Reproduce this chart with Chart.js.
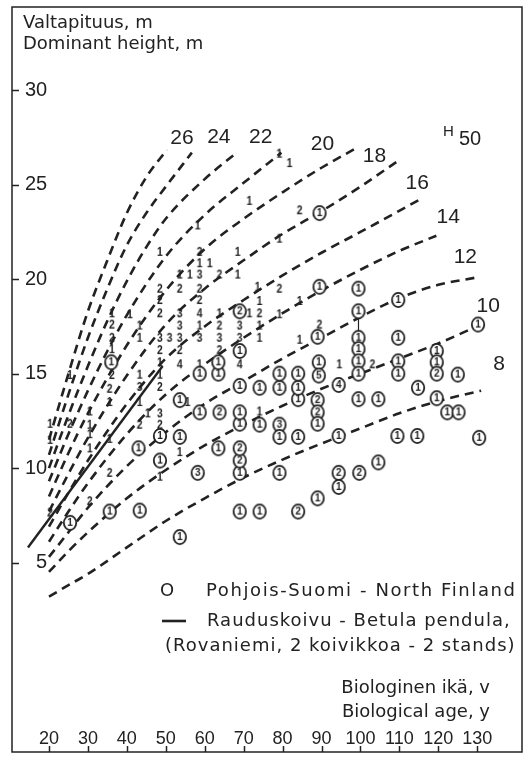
<!DOCTYPE html>
<html>
<head>
<meta charset="utf-8">
<script src="https://cdn.jsdelivr.net/npm/chart.js@4.4.1/dist/chart.umd.min.js"></script>
<style>
  html, body { margin: 0; padding: 0; background: #fff; }
  #wrap { width: 529px; height: 759px; }
</style>
</head>
<body>
<div id="wrap"><canvas id="chart" width="529" height="759"></canvas></div>
<script>
// Valtapituus - Dominant height over biological age, H50 site index curves

const ageTicks = [20, 30, 40, 50, 60, 70, 80, 90, 100, 110, 120, 130];
const heightTicks = [5, 10, 15, 20, 25, 30];
const ageRange = [10.5, 141.5];
const heightRange = [-5.03, 34.41];

// H50 guide curves, [age, height]
const h50_26 = [[20, 11.5], [25, 15.0], [30, 18.3], [35, 21.0], [40, 23.5], [45, 25.4], [50.3, 26.85]];
const h50_24 = [[20, 10.7], [25, 13.9], [30, 16.9], [35, 19.5], [40, 21.8], [45, 23.5], [50, 24.9], [56.7, 26.7]];
const h50_22 = [[20, 10.0], [25, 12.8], [30, 15.4], [35, 17.8], [40, 19.9], [45, 21.7], [50, 23.2], [60, 25.3], [68.2, 26.7]];
const h50_20 = [[20, 9.3], [25, 11.8], [30, 14.1], [35, 16.2], [40, 18.1], [50, 21.2], [60, 23.4], [70, 25.1], [79.7, 26.7]];
const h50_18 = [[20, 8.5], [25, 10.8], [30, 12.9], [40, 16.5], [50, 19.4], [60, 21.6], [70, 23.2], [80, 24.6], [90, 25.9], [99, 26.95]];
const h50_16 = [[20, 7.7], [25, 9.7], [30, 11.6], [40, 14.9], [50, 17.6], [60, 19.5], [70, 21.0], [80, 22.4], [90, 23.6], [100, 24.9], [109.2, 26.2]];
const h50_14 = [[20, 6.9], [25, 8.7], [30, 10.4], [40, 13.4], [50, 15.8], [60, 17.5], [70, 18.9], [80, 20.2], [90, 21.4], [100, 22.5], [115.1, 24.2]];
const h50_12 = [[20, 6.1], [25, 7.7], [30, 9.2], [40, 11.8], [50, 13.9], [60, 15.5], [70, 16.9], [80, 18.2], [90, 19.4], [100, 20.5], [110, 21.5], [119.5, 22.3]];
const h50_10 = [[20, 5.3], [25, 6.6], [30, 7.9], [40, 10.1], [50, 11.9], [60, 13.4], [70, 14.6], [80, 15.8], [90, 16.9], [100, 18.0], [110, 19.0], [120, 19.7], [130, 20.1]];
const h50_8 = [[20, 4.5], [25, 5.6], [30, 6.6], [40, 8.4], [50, 9.9], [60, 11.2], [70, 12.3], [80, 13.3], [90, 14.2], [100, 15.0], [110, 15.8], [120, 16.6], [131, 17.6]];
const h50_low = [[20, 3.2], [25, 3.8], [30, 4.4], [40, 5.8], [50, 7.2], [60, 8.4], [70, 9.5], [80, 10.45], [90, 11.3], [100, 12.1], [110, 12.9], [120, 13.55], [131, 14.1]];

const h50Curves = [h50_26, h50_24, h50_22, h50_20, h50_18, h50_16, h50_14, h50_12, h50_10, h50_8, h50_low];
const siteIndexLabels = ['26', '24', '22', '20', '18', '16', '14', '12', '10', '8', ''];

// Rauduskoivu - Betula pendula, Rovaniemi
const betulaLine = [[14.6, 5.8], [49.2, 15.4]];
// remeasured stand (vertical connector)
const standTrack = [[99.5, 18.3], [99.5, 15.0]];

// Pohjois-Suomi plots, circled number: [age, height, count]
const northPlots = [
  [89.5, 23.5, 1], [89.5, 19.6, 1], [99.5, 19.5, 1], [109.7, 18.9, 1], [130.2, 17.6, 1],
  [89.0, 16.95, 1], [99.5, 18.3, 1], [99.5, 16.9, 1], [99.5, 16.3, 1], [99.5, 15.65, 1], [99.5, 15.0, 1],
  [109.7, 16.9, 1], [109.7, 15.65, 1], [109.7, 15.0, 1],
  [119.6, 16.2, 1], [119.6, 15.6, 1], [119.6, 15.0, 2], [125.0, 14.95, 1], [114.8, 14.25, 1],
  [99.5, 13.65, 1], [104.6, 13.65, 1], [119.6, 13.7, 1], [122.3, 12.95, 1], [125.2, 12.95, 1],
  [109.5, 11.7, 1], [114.6, 11.7, 1], [130.5, 11.6, 1], [104.6, 10.3, 1], [94.4, 11.7, 1],
  [89.3, 15.6, 1], [89.3, 14.9, 5], [94.4, 14.4, 4], [89.0, 13.6, 2], [89.0, 12.95, 2], [89.0, 12.35, 1],
  [84.0, 13.65, 1], [74.1, 14.25, 1], [79.2, 14.25, 1], [84.0, 14.25, 1], [79.2, 15.0, 1], [84.0, 15.0, 1],
  [74.1, 12.3, 1], [79.2, 12.3, 3], [79.2, 11.65, 1], [84.0, 11.65, 1],
  [79.2, 9.75, 1], [94.4, 9.75, 2], [94.4, 9.0, 1], [99.7, 9.75, 2], [89.0, 8.4, 1], [84.0, 7.7, 2],
  [69.0, 7.7, 1], [74.1, 7.7, 1], [69.0, 9.75, 1], [69.0, 10.4, 2], [69.0, 11.05, 2], [63.5, 11.05, 1],
  [69.0, 12.35, 1], [69.0, 12.95, 1], [63.8, 12.95, 2], [58.7, 12.95, 1], [53.6, 13.6, 1], [69.0, 14.35, 1],
  [58.7, 15.0, 1], [63.5, 15.0, 1], [63.5, 15.6, 1], [69.0, 16.2, 1], [69.0, 18.3, 2],
  [36.0, 15.6, 1], [48.5, 11.7, 1], [53.6, 11.65, 1], [43.0, 11.05, 1], [48.5, 10.4, 1], [58.2, 9.75, 3],
  [53.6, 6.35, 1], [25.4, 7.1, 1], [35.6, 7.7, 1], [43.3, 7.75, 1]
];

// other plots, plain number: [age, height, count]
const otherPlots = [
  [79.2, 26.7, 1], [81.8, 26.2, 1], [71.5, 24.2, 1], [58.2, 22.9, 1], [84.4, 23.7, 2], [79.2, 22.2, 1],
  [48.5, 21.5, 1], [58.7, 21.5, 2], [68.5, 21.5, 1], [58.7, 20.9, 1], [61.3, 20.9, 1],
  [53.6, 20.3, 1], [56.2, 20.3, 1], [58.7, 20.3, 3], [63.8, 20.3, 2], [68.5, 20.3, 1],
  [48.5, 19.55, 2], [53.6, 19.55, 2], [58.7, 19.55, 2], [48.5, 18.95, 2], [58.7, 18.95, 2],
  [73.6, 19.65, 1], [79.2, 19.55, 2], [74.1, 18.9, 1], [84.4, 18.9, 1],
  [36.2, 18.25, 1], [40.8, 18.2, 1], [48.5, 18.25, 2], [53.6, 18.25, 3], [58.7, 18.25, 4], [63.8, 18.25, 1],
  [71.5, 18.25, 1], [74.1, 18.25, 2], [79.2, 18.2, 1],
  [36.2, 17.65, 2], [43.3, 17.6, 1], [53.6, 17.6, 3], [58.7, 17.6, 1], [63.8, 17.6, 2], [69.0, 17.6, 3],
  [74.1, 17.6, 1], [89.5, 17.65, 2],
  [36.2, 16.95, 2], [43.3, 16.95, 1], [48.5, 16.95, 3], [51.0, 16.95, 3], [53.6, 16.95, 3], [58.7, 16.95, 3],
  [63.8, 16.95, 3], [69.0, 16.95, 3], [74.1, 16.95, 1], [84.4, 16.85, 1],
  [36.2, 16.35, 1], [48.5, 16.3, 2], [53.6, 16.3, 2], [63.8, 16.3, 2],
  [48.5, 15.65, 1], [53.6, 15.55, 4], [58.7, 15.55, 1], [69.0, 15.55, 4], [94.6, 15.55, 1], [103.1, 15.55, 2],
  [25.4, 14.98, 1], [36.2, 14.98, 2], [43.3, 15.0, 1], [48.5, 15.0, 1],
  [35.6, 14.25, 2], [43.3, 14.35, 3], [48.5, 14.35, 2], [35.6, 13.55, 1], [43.3, 13.55, 1], [55.6, 13.55, 1],
  [20.3, 12.4, 1], [25.4, 12.4, 2], [30.5, 13.05, 1], [30.5, 12.35, 1], [30.5, 11.85, 1], [20.3, 11.55, 1],
  [45.4, 12.95, 1], [48.5, 12.95, 3], [48.5, 12.35, 2], [43.3, 12.35, 2], [35.6, 11.6, 1], [30.5, 11.1, 1],
  [53.6, 10.9, 1], [48.5, 9.6, 1], [35.6, 9.8, 2], [30.5, 8.3, 2], [20.3, 7.7, 2], [74.1, 13.05, 1]
];

const ink = '#222222';
const sans = '"DejaVu Sans", "Liberation Sans", sans-serif';
const arial = '"Liberation Sans", Arial, sans-serif';

// point glyphs
function circledMark(n) {
  const c = document.createElement('canvas');
  c.width = 16; c.height = 18;
  const g = c.getContext('2d');
  g.fillStyle = '#fff';
  g.strokeStyle = ink;
  g.lineWidth = 1.8;
  g.beginPath();
  g.ellipse(8, 9, 6.2, 7.1, 0, 0, Math.PI * 2);
  g.fill();
  g.stroke();
  g.fillStyle = ink;
  g.font = 'bold 10px ' + arial;
  g.textAlign = 'center';
  g.textBaseline = 'middle';
  g.fillText(String(n), 8, 9.5);
  return c;
}

function plainMark(n) {
  const c = document.createElement('canvas');
  c.width = 10; c.height = 14;
  const g = c.getContext('2d');
  g.fillStyle = ink;
  g.font = 'bold 13px ' + arial;
  g.textAlign = 'center';
  g.textBaseline = 'middle';
  g.translate(5, 7);
  g.scale(0.8, 1);
  g.fillText(String(n), 0, 1);
  return c;
}

const circledStyles = {};
const plainStyles = {};
[1, 2, 3, 4, 5].forEach(n => { circledStyles[n] = circledMark(n); plainStyles[n] = plainMark(n); });

const curveLabelOffsets = [[15, -12], [27, -15], [24, -15], [41, -8], [18, 8], [21, 21], [29, 17], [29, 21], [11, 29], [18, 40], [0, 0]];

// curves come first so dataset index i == curve i
const curveDatasets = h50Curves.map((pts, i) => ({
  label: 'H50 ' + siteIndexLabels[i],
  data: pts.map(([x, y]) => ({ x, y })),
  borderColor: ink,
  borderWidth: 2.6,
  borderDash: [9, 6],
  pointRadius: 0,
  cubicInterpolationMode: 'monotone',
  fill: false,
  order: 3
}));

const paperPlugin = {
  id: 'paper',
  beforeDraw(chart) {
    const ctx = chart.ctx;
    ctx.save();
    ctx.fillStyle = '#fff';
    ctx.fillRect(0, 0, chart.width, chart.height);
    ctx.restore();
  },
  afterDraw(chart) {
    const { ctx, chartArea: a, scales: { x, y } } = chart;
    ctx.save();
    ctx.strokeStyle = ink;
    ctx.lineWidth = 1.5;
    ctx.strokeRect(a.left, a.top, a.right - a.left, a.bottom - a.top);

    // tick marks inside the frame
    ctx.beginPath();
    y.ticks.forEach(t => {
      const py = Math.round(y.getPixelForValue(t.value)) + 0.5;
      ctx.moveTo(a.left, py);
      ctx.lineTo(a.left + 7, py);
    });
    x.ticks.forEach(t => {
      const px = Math.round(x.getPixelForValue(t.value)) + 0.5;
      ctx.moveTo(px, a.bottom);
      ctx.lineTo(px, a.bottom - 6);
    });
    ctx.stroke();

    ctx.fillStyle = ink;
    ctx.textBaseline = 'alphabetic';
    ctx.textAlign = 'left';
    ctx.font = '18px ' + sans;
    ctx.fillText('Valtapituus, m', 23, 28);
    ctx.fillText('Dominant height, m', 23, 49);

    // curve labels at curve ends
    ctx.font = '21px ' + arial;
    ctx.textAlign = 'center';
    ctx.textBaseline = 'middle';
    siteIndexLabels.forEach((lab, i) => {
      if (!lab) return;
      const meta = chart.getDatasetMeta(i);
      const end = meta.data[meta.data.length - 1];
      ctx.fillText(lab, end.x + curveLabelOffsets[i][0], end.y + curveLabelOffsets[i][1]);
    });
    ctx.textAlign = 'left';
    ctx.font = '15px ' + arial;
    ctx.fillText('H', 443, 132);
    ctx.font = '20px ' + arial;
    ctx.fillText('50', 459, 139);

    // legend
    ctx.font = '18px ' + sans;
    ctx.fillText('O', 160, 591);
    ctx.letterSpacing = '1.6px';
    ctx.fillText('Pohjois-Suomi - North Finland', 206, 591);
    ctx.letterSpacing = '1px';
    ctx.fillText('Rauduskoivu - Betula pendula,', 207, 621);
    ctx.fillText('(Rovaniemi, 2 koivikkoa - 2 stands)', 165, 646);
    ctx.letterSpacing = '0px';
    ctx.beginPath();
    ctx.lineWidth = 2.6;
    ctx.moveTo(162, 621);
    ctx.lineTo(186, 621);
    ctx.stroke();

    ctx.textAlign = 'right';
    ctx.fillText('Biologinen ikä, v', 490, 688);
    ctx.fillText('Biological age, y', 490, 712);
    ctx.restore();
  }
};

new Chart(document.getElementById('chart'), {
  type: 'line',
  data: {
    datasets: curveDatasets.concat([
      {
        label: 'Pohjois-Suomi',
        data: northPlots.map(([x, y, n]) => ({ x, y, n })),
        showLine: false,
        pointRadius: 6,
        pointStyle: ctx => (ctx.raw ? circledStyles[ctx.raw.n] : 'circle'),
        order: 0
      },
      {
        label: 'other plots',
        data: otherPlots.map(([x, y, n]) => ({ x, y, n })),
        showLine: false,
        pointRadius: 5,
        pointStyle: ctx => (ctx.raw ? plainStyles[ctx.raw.n] : 'circle'),
        order: 1
      },
      {
        label: 'Rauduskoivu',
        data: betulaLine.map(([x, y]) => ({ x, y })),
        borderColor: ink,
        borderWidth: 2.4,
        pointRadius: 0,
        order: 2
      },
      {
        label: 'stand',
        data: standTrack.map(([x, y]) => ({ x, y })),
        borderColor: ink,
        borderWidth: 1.2,
        pointRadius: 0,
        order: 2
      }
    ])
  },
  options: {
    responsive: false,
    devicePixelRatio: 1,
    animation: false,
    events: [],
    layout: { padding: { left: 12, top: 3, right: 6, bottom: 5 } },
    plugins: { legend: { display: false }, tooltip: { enabled: false }, title: { display: false } },
    scales: {
      x: {
        type: 'linear',
        min: ageRange[0],
        max: ageRange[1],
        afterBuildTicks: s => { s.ticks = ageTicks.map(v => ({ value: v })); },
        afterFit: s => { s.height = 0; s.paddingLeft = 0; s.paddingRight = 0; },
        grid: { display: false },
        border: { display: false },
        ticks: {
          mirror: true, padding: 2, autoSkip: false, maxRotation: 0, color: ink,
          font: { family: arial, size: 18 }
        }
      },
      y: {
        type: 'linear',
        min: heightRange[0],
        max: heightRange[1],
        afterBuildTicks: s => { s.ticks = heightTicks.map(v => ({ value: v })); },
        afterFit: s => { s.width = 0; s.paddingTop = 0; s.paddingBottom = 0; },
        grid: { display: false },
        border: { display: false },
        ticks: {
          mirror: true, crossAlign: 'far', padding: 13, color: ink,
          font: { family: arial, size: 20 }
        }
      }
    }
  },
  plugins: [paperPlugin]
});
</script>
</body>
</html>
